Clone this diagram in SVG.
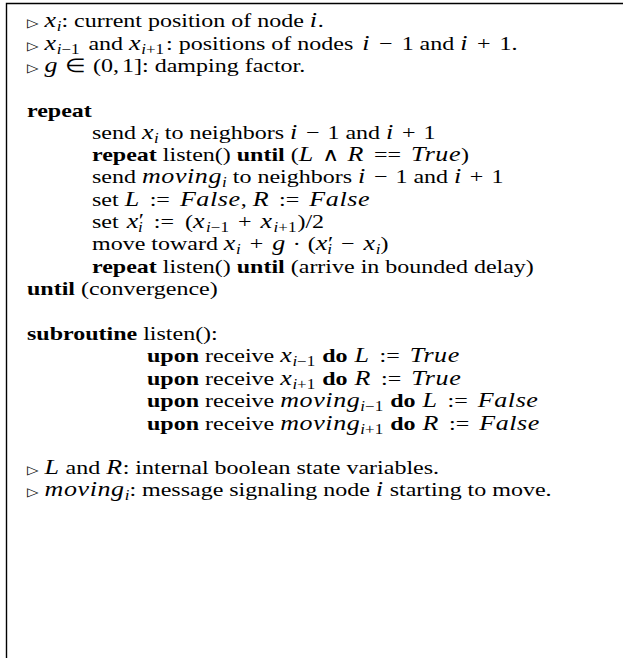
<svg xmlns="http://www.w3.org/2000/svg" width="623" height="658" viewBox="0 0 623 658">
<style>
text{font-family:"Liberation Serif","Times New Roman",serif;font-size:24px;fill:#000}
.b{font-weight:bold}
.m{font-style:italic;font-size:26px;letter-spacing:0.6px}
.s{font-size:17px}
.si{font-size:17px;font-style:italic}
.pr{font-size:24px}
.tri{font-family:"DejaVu Sans",sans-serif;font-size:15px}
.frame{stroke:#000;stroke-width:1.4;fill:none}
</style>
<rect width="623" height="658" fill="#fff"/>
<path class="frame" d="M6.5,658 V3.5 H623"/>
<g transform="scale(1,0.8)">
<g id="header">
<text x="27" y="34"><tspan class="tri">▷</tspan><tspan dx="6" class="m">x</tspan><tspan class="si" dy="5">i</tspan><tspan dy="-5">: current position of node </tspan><tspan class="m">i</tspan>.</text>
<text x="27" y="62"><tspan class="tri">▷</tspan><tspan dx="6" class="m">x</tspan><tspan class="s" dy="5"><tspan font-style="italic">i</tspan>−1</tspan><tspan dy="-5" dx="3"> and </tspan><tspan class="m">x</tspan><tspan class="s" dy="5"><tspan font-style="italic">i</tspan>+1</tspan><tspan dy="-5" dx="2">: positions of nodes </tspan><tspan class="m" dx="3">i</tspan><tspan dx="9">−</tspan><tspan dx="9">1 and </tspan><tspan class="m">i</tspan><tspan dx="9">+</tspan><tspan dx="9">1.</tspan></text>
<text x="27" y="90"><tspan class="tri">▷</tspan><tspan dx="6" class="m">g</tspan><tspan dx="7">∈</tspan><tspan dx="7">(0,</tspan><tspan dx="3">1]: damping factor.</tspan></text>
</g>
<g id="main-loop">
<text x="27" y="146" class="b">repeat</text>
<text x="92" y="174">send <tspan class="m">x</tspan><tspan class="si" dy="5">i</tspan><tspan dy="-5"> to neighbors </tspan><tspan class="m">i</tspan><tspan dx="8">−</tspan><tspan dx="8">1 and </tspan><tspan class="m">i</tspan><tspan dx="8">+</tspan><tspan dx="8">1</tspan></text>
<text x="92" y="201"><tspan class="b">repeat</tspan> listen() <tspan class="b">until</tspan> (<tspan class="m">L</tspan><tspan dx="8">∧</tspan><tspan dx="8" class="m">R</tspan><tspan dx="10">==</tspan><tspan dx="10" class="m">True</tspan>)</text>
<text x="92" y="229">send <tspan class="m">moving</tspan><tspan class="si" dy="5">i</tspan><tspan dy="-5"> to neighbors </tspan><tspan class="m">i</tspan><tspan dx="8">−</tspan><tspan dx="8">1 and </tspan><tspan class="m">i</tspan><tspan dx="8">+</tspan><tspan dx="8">1</tspan></text>
<text x="92" y="257">set <tspan class="m">L</tspan><tspan dx="10">:=</tspan><tspan dx="10" class="m">False</tspan>, <tspan class="m">R</tspan><tspan dx="10">:=</tspan><tspan dx="10" class="m">False</tspan></text>
<text x="92" y="285">set <tspan class="m" dx="2">x</tspan><tspan class="pr" dy="-1">′</tspan><tspan class="si" dx="-6" dy="6">i</tspan><tspan dy="-5" dx="11">:=</tspan><tspan dx="11">(</tspan><tspan class="m">x</tspan><tspan class="s" dy="5" dx="1"><tspan font-style="italic">i</tspan>−1</tspan><tspan dy="-5" dx="9">+</tspan><tspan dx="9" class="m">x</tspan><tspan class="s" dy="5" dx="1"><tspan font-style="italic">i</tspan>+1</tspan><tspan dy="-5" dx="1">)/2</tspan></text>
<text x="92" y="313">move toward <tspan class="m">x</tspan><tspan class="si" dy="5">i</tspan><tspan dy="-5" dx="9">+</tspan><tspan dx="9" class="m">g</tspan><tspan dx="7">·</tspan><tspan dx="7">(</tspan><tspan class="m">x</tspan><tspan class="pr" dy="-1">′</tspan><tspan class="si" dx="-6" dy="6">i</tspan><tspan dy="-5" dx="9">−</tspan><tspan dx="9" class="m">x</tspan><tspan class="si" dy="5">i</tspan><tspan dy="-5">)</tspan></text>
<text x="92" y="341"><tspan class="b">repeat</tspan> listen() <tspan class="b">until</tspan> (arrive in bounded delay)</text>
<text x="27" y="369"><tspan class="b">until</tspan> (convergence)</text>
</g>
<g id="listen">
<text x="27" y="425"><tspan class="b">subroutine</tspan> listen():</text>
<text x="147" y="453"><tspan class="b">upon</tspan> receive <tspan class="m">x</tspan><tspan class="s" dy="5"><tspan font-style="italic">i</tspan>−1</tspan><tspan dy="-5" class="b" dx="7">do</tspan><tspan dx="7" class="m">L</tspan><tspan dx="10">:=</tspan><tspan dx="10" class="m">True</tspan></text>
<text x="147" y="481"><tspan class="b">upon</tspan> receive <tspan class="m">x</tspan><tspan class="s" dy="5"><tspan font-style="italic">i</tspan>+1</tspan><tspan dy="-5" class="b" dx="7">do</tspan><tspan dx="7" class="m">R</tspan><tspan dx="10">:=</tspan><tspan dx="10" class="m">True</tspan></text>
<text x="147" y="509"><tspan class="b">upon</tspan> receive <tspan class="m">moving</tspan><tspan class="s" dy="5"><tspan font-style="italic">i</tspan>−1</tspan><tspan dy="-5" class="b" dx="7">do</tspan><tspan dx="7" class="m">L</tspan><tspan dx="10">:=</tspan><tspan dx="10" class="m">False</tspan></text>
<text x="147" y="537"><tspan class="b">upon</tspan> receive <tspan class="m">moving</tspan><tspan class="s" dy="5"><tspan font-style="italic">i</tspan>+1</tspan><tspan dy="-5" class="b" dx="7">do</tspan><tspan dx="7" class="m">R</tspan><tspan dx="10">:=</tspan><tspan dx="10" class="m">False</tspan></text>
</g>
<g id="notes">
<text x="27" y="592"><tspan class="tri">▷</tspan><tspan dx="6" class="m">L</tspan> and <tspan class="m">R</tspan>: internal boolean state variables.</text>
<text x="27" y="620"><tspan class="tri">▷</tspan><tspan dx="6" class="m">moving</tspan><tspan class="si" dy="5">i</tspan><tspan dy="-5">: message signaling node </tspan><tspan class="m">i</tspan> starting to move.</text>
</g>
</g>
</svg>
